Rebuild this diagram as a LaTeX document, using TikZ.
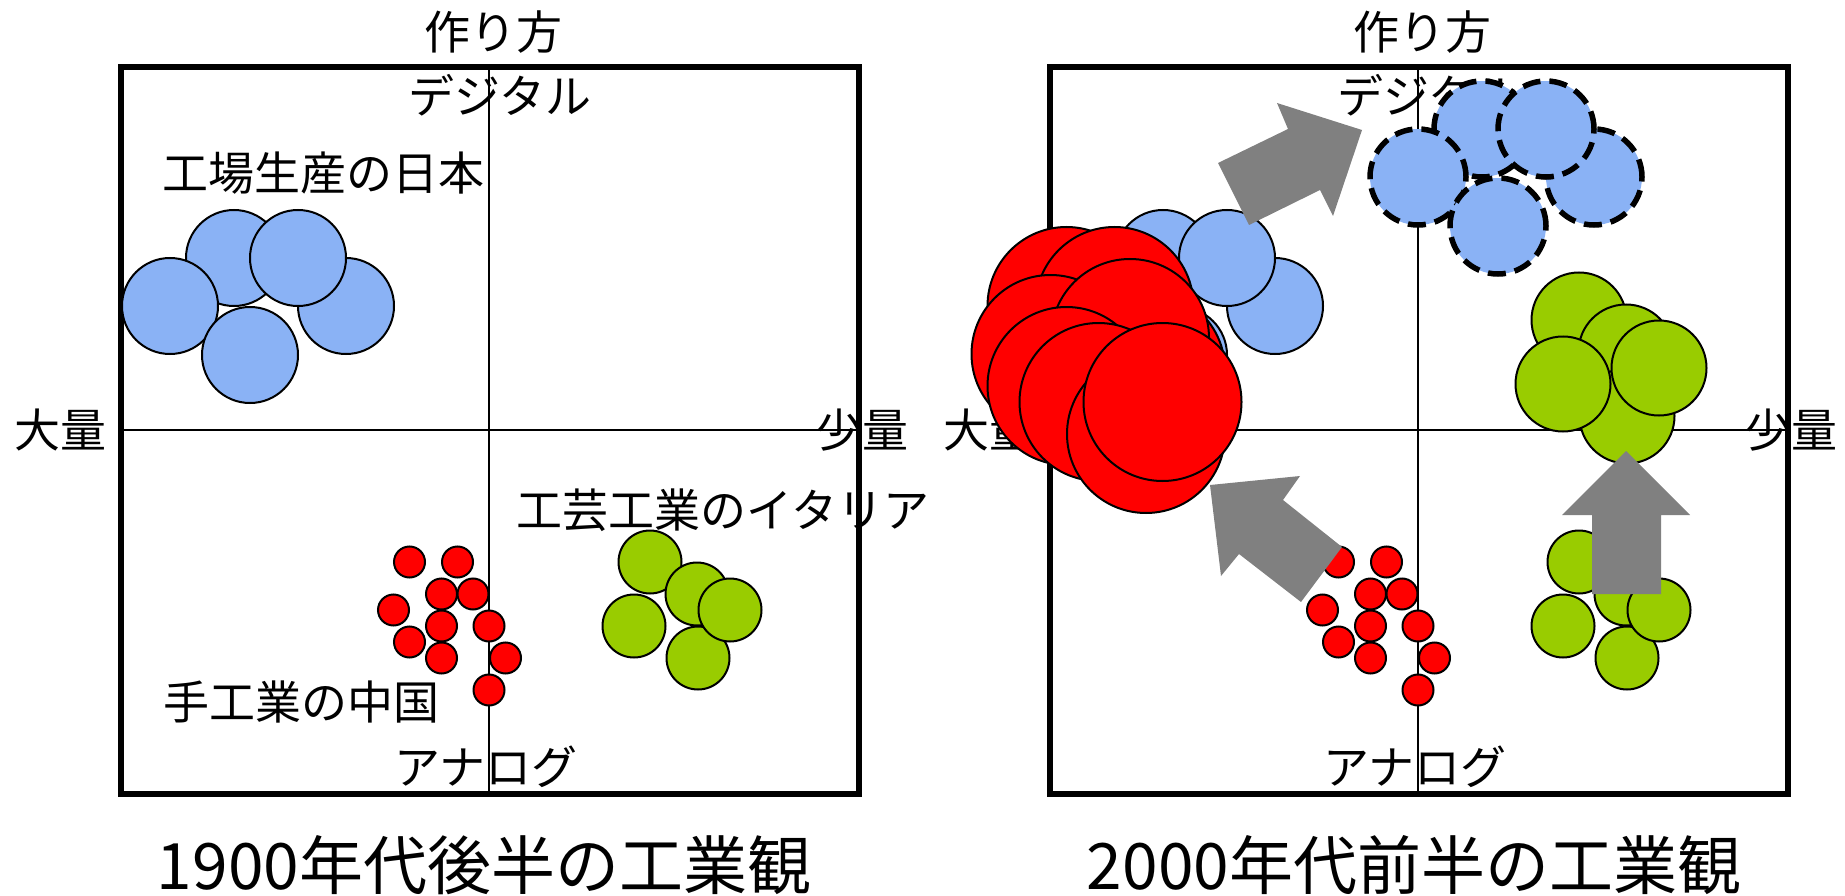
\documentclass[tikz,border=0pt]{standalone}
\usepackage{fontspec}
\setmainfont{Noto Sans CJK JP}
\definecolor{myblue}{RGB}{138,178,245}
\definecolor{mygreen}{RGB}{153,204,0}
\definecolor{myred}{RGB}{255,0,0}
\definecolor{mygray}{RGB}{128,128,128}
\begin{document}
\begin{tikzpicture}[x=1pt,y=-1pt,
  frame/.style={line width=6pt},
  axisline/.style={line width=2pt},
  lbl/.style={inner sep=0pt,font=\fontsize{46}{46}\selectfont},
  ttl/.style={inner sep=0pt,font=\fontsize{64}{64}\selectfont},
  dot/.style={circle,draw=black,line width=2pt,inner sep=0pt},
  bluec/.style={dot,fill=myblue,minimum size=96pt},
  bluedash/.style={circle,draw=black,fill=myblue,line width=5.5pt,dash pattern=on 18pt off 9pt,inner sep=0pt,minimum size=96pt},
  redsmall/.style={dot,fill=myred,minimum size=31pt},
  redbig/.style={dot,fill=myred,minimum size=158pt},
  greensmall/.style={dot,fill=mygreen,minimum size=63pt},
  greenbig/.style={dot,fill=mygreen,minimum size=95pt},
  blockarrow/.style={fill=mygray,draw=none}]
\useasboundingbox (0,0) rectangle (1845,896);

% ---------- frames and axes ----------
\foreach \p/\dx in {L/0,R/929}{
  \coordinate (\p tl) at (121+\dx,67);
  \coordinate (\p br) at (859+\dx,794);
  \coordinate (\p xl) at (121+\dx,430);
  \coordinate (\p xr) at (859+\dx,430);
  \coordinate (\p yt) at (489+\dx,67);
  \coordinate (\p yb) at (489+\dx,794);
  \draw[axisline] (\p xl) -- (\p xr);
  \draw[axisline] (\p yt) -- (\p yb);
  \draw[frame] (\p tl) rectangle (\p br);
  \node[lbl] (\p make) at (493+\dx,32) {作り方};
  \node[lbl] (\p dig) at (500+\dx,95) {デジタル};
  \node[lbl] (\p many) at (60+\dx,430) {大量};
  \node[lbl] (\p few) at (862+\dx,430) {少量};
  \node[lbl] (\p ana) at (486+\dx,767) {アナログ};
}
\node[lbl] (jp) at (323,173) {工場生産の日本};
\node[lbl] (it) at (723,510) {工芸工業のイタリア};
\node[lbl] (cn) at (301,702) {手工業の中国};
\node[ttl] (t1) at (484,865) {1900年代後半の工業観};
\node[ttl] (t2) at (1414,865) {2000年代前半の工業観};

% ---------- left panel ----------
\foreach \n/\x/\y in {2/234/258,4/346/306,1/170/306,5/250/355,3/298/258}
  \node[bluec] (Lb\n) at (\x,\y) {};
\foreach \n/\x/\y in {1/409.5/562,2/457.5/562,3/441.5/594,4/473/594,5/393.5/610,6/441.5/626,7/489/626,8/409.5/642,9/441.5/658,10/505.5/658,11/489/690}
  \node[redsmall] (Lr\n) at (\x,\y) {};
\foreach \n/\x/\y in {1/650/562,2/697/594,5/698/658,4/634/626,3/730/610}
  \node[greensmall] (Lg\n) at (\x,\y) {};

% ---------- right panel ----------
\foreach \n/\x/\y in {2/1163/258,4/1275/306,1/1099/306,5/1179/355,3/1227/258}
  \node[bluec] (Rb\n) at (\x,\y) {};
\foreach \n/\x/\y in {1/1066.5/306,3/1098.5/338,6/1098.5/370,7/1146/370,2/1114.5/306,5/1050.5/354,4/1130/338,8/1066.5/386,9/1098.5/402,11/1146/434,10/1162.5/402}
  \node[redbig] (RR\n) at (\x,\y) {};
\foreach \n/\x/\y in {1/1338.5/562,2/1386.5/562,3/1370.5/594,4/1402/594,5/1322.5/610,6/1370.5/626,7/1418/626,8/1338.5/642,9/1370.5/658,10/1434.5/658,11/1418/690}
  \node[redsmall] (Rr\n) at (\x,\y) {};
\foreach \n/\x/\y in {1/1579/562,2/1626/594,5/1627/658,4/1563/626,3/1659/610}
  \node[greensmall] (Rg\n) at (\x,\y) {};
\foreach \n/\x/\y in {1/1579/320,2/1626/352,5/1627/416,4/1563/384,3/1659/368}
  \node[greenbig] (RG\n) at (\x,\y) {};
\foreach \n/\x/\y in {4/1594/177,2/1482/129,3/1546/129,1/1418/177,5/1498/226}
  \node[bluedash] (Rd\n) at (\x,\y) {};

% ---------- block arrows ----------
\fill[blockarrow] (1218,163) -- (1288,129) -- (1277,103) -- (1362,130) -- (1333,216) -- (1320,190) -- (1249,225) -- cycle;
\fill[blockarrow] (1210,485) -- (1300,476) -- (1283,500) -- (1342,547) -- (1301,602) -- (1239,554) -- (1221,576) -- cycle;
\fill[blockarrow] (1626,451) -- (1690,515) -- (1661,515) -- (1661,594) -- (1592,594) -- (1592,515) -- (1562,515) -- cycle;
\end{tikzpicture}
\end{document}
